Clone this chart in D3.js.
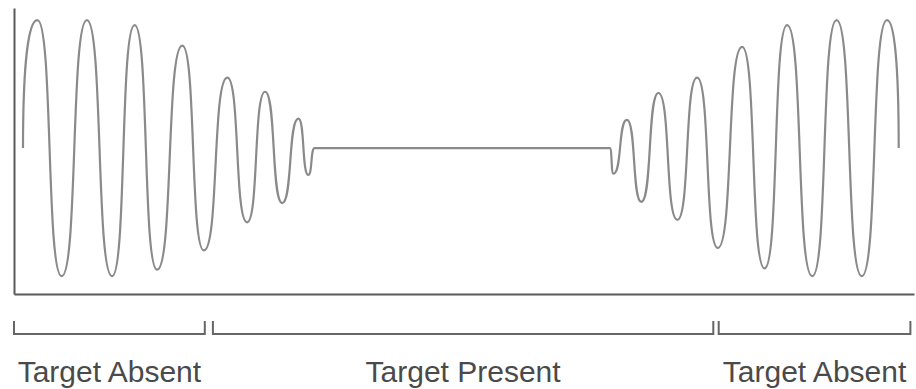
<!DOCTYPE html>
<html>
<head>
<title>Target Absent / Present</title>
<script src="https://cdnjs.cloudflare.com/ajax/libs/d3/7.8.5/d3.min.js"></script>
<style>
  body { margin: 0; background: #fff; }
  svg { display: block; }
</style>
</head>
<body>
<script>
// signal turning points (time 0..100, amplitude -1..1)
var waveTime = [1.0, 2.6, 5.3, 8.1, 10.9, 13.4, 15.9, 18.7, 21.1, 23.7, 25.9, 27.9, 29.8, 31.6, 32.7, 33.4,
                66.2, 66.6, 68.1, 69.7, 71.6, 73.7, 75.9, 78.2, 80.9, 83.4, 85.9, 88.7, 91.4, 94.2, 97.0, 98.3];
var waveValue = [0, 1.0, -1.0, 1.0, -1.0, 0.96, -0.95, 0.80, -0.80, 0.55, -0.58, 0.44, -0.43, 0.23, -0.21, 0,
                 0, -0.20, 0.22, -0.42, 0.43, -0.56, 0.55, -0.78, 0.79, -0.94, 0.96, -1.0, 1.0, -1.0, 1.0, 0];

// bracketed regions under the axis
var regionLabels = ["Target Absent", "Target Present", "Target Absent"];
var regionStart = [0, 22.1, 78.3];
var regionEnd = [21.2, 77.7, 99.6];

var width = 916, height = 389;

var x = d3.scaleLinear().domain([0, 100]).range([14, 914]);
var y = d3.scaleLinear().domain([-1.14, 1.094]).range([294, 8]);

// curve through the turning points: flat at every crest/trough, wide rounded
// caps and steep flanks; the two open ends of the trace leave vertically
function crestCurve(context) {
  var pts, f = 0.64;
  return {
    areaStart: function() {},
    areaEnd: function() {},
    lineStart: function() { pts = []; },
    point: function(px, py) { pts.push([+px, +py]); },
    lineEnd: function() {
      var n = pts.length;
      if (!n) return;
      context.moveTo(pts[0][0], pts[0][1]);
      for (var i = 1; i < n; i++) {
        var a = pts[i - 1], b = pts[i], dx = (b[0] - a[0]) * f;
        var c1 = [a[0] + dx, a[1]], c2 = [b[0] - dx, b[1]];
        if (i === 1) c1 = [a[0], a[1] + (b[1] - a[1]) * f];
        if (i === n - 1) c2 = [b[0], b[1] - (b[1] - a[1]) * f];
        context.bezierCurveTo(c1[0], c1[1], c2[0], c2[1], b[0], b[1]);
      }
    }
  };
}

var svg = d3.select("body").append("svg")
  .attr("width", width)
  .attr("height", height);

var points = waveTime.map(function(t, i) { return [t, waveValue[i]]; });

var line = d3.line()
  .x(function(d) { return x(d[0]); })
  .y(function(d) { return y(d[1]); })
  .curve(crestCurve);

svg.append("path")
  .datum(points)
  .attr("d", line)
  .attr("fill", "none")
  .attr("stroke", "#8a8a8a")
  .attr("stroke-width", 2.2)
  .attr("stroke-linejoin", "round");

// bare axes, no ticks
var xAxis = d3.axisBottom(x).tickValues([]).tickSizeOuter(0);
var yAxis = d3.axisLeft(y).tickValues([]).tickSizeOuter(0);

svg.append("g")
  .attr("transform", "translate(0," + y.range()[0] + ")")
  .call(xAxis)
  .select(".domain").attr("stroke", "#5a5a5a").attr("stroke-width", 2);

svg.append("g")
  .attr("transform", "translate(" + x.range()[0] + ",0)")
  .call(yAxis)
  .select(".domain").attr("stroke", "#5a5a5a").attr("stroke-width", 2);

// brackets
var bracketY = 334, bracketTop = 321;
var brackets = svg.selectAll(".bracket")
  .data(regionLabels)
  .enter().append("g")
  .attr("class", "bracket");

brackets.append("path")
  .attr("d", function(d, i) {
    var a = x(regionStart[i]), b = x(regionEnd[i]);
    return "M" + a + "," + bracketTop + "V" + bracketY + "H" + b + "V" + bracketTop;
  })
  .attr("fill", "none")
  .attr("stroke", "#666")
  .attr("stroke-width", 2);

brackets.append("text")
  .attr("x", function(d, i) { return (x(regionStart[i]) + x(regionEnd[i])) / 2; })
  .attr("y", 382)
  .attr("text-anchor", "middle")
  .attr("font-family", "Liberation Sans, Arial, sans-serif")
  .attr("font-size", 30)
  .attr("fill", "#4a4a4a")
  .text(function(d) { return d; });
</script>
</body>
</html>
